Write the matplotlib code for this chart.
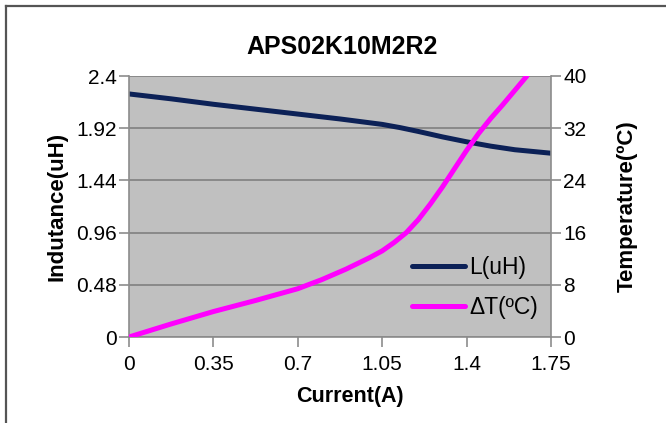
import matplotlib

matplotlib.use("Agg")
from matplotlib import pyplot as plt
from matplotlib.lines import Line2D

plt.rcParams["font.family"] = ["Liberation Sans", "DejaVu Sans"]

title = "APS02K10M2R2"
current_ticks = [0, 0.35, 0.7, 1.05, 1.4, 1.75]
ind_ticks = [0, 0.48, 0.96, 1.44, 1.92, 2.4]
ind_tick_labels = ["0", "0.48", "0.96", "1.44", "1.92", "2.4"]
temp_ticks = [0, 8, 16, 24, 32, 40]

l_current = [0, 0.175, 0.35, 0.525, 0.7, 0.875, 1.05, 1.125, 1.2, 1.3, 1.4, 1.5, 1.6, 1.75]
l_uh = [2.235, 2.19, 2.14, 2.095, 2.05, 2.005, 1.955, 1.925, 1.89, 1.84, 1.795, 1.755, 1.722, 1.69]

t_current = [0, 0.175, 0.35, 0.525, 0.7, 0.8, 0.9, 1.0, 1.05, 1.1, 1.15, 1.2,
             1.25, 1.3, 1.35, 1.4, 1.45, 1.5, 1.55, 1.6, 1.65]
t_rise = [0, 2.0, 3.9, 5.6, 7.4, 8.8, 10.4, 12.2, 13.2, 14.5, 16.0, 18.0,
          20.4, 23.0, 25.8, 28.6, 31.2, 33.5, 35.6, 37.8, 40.0]

navy = "#0c2157"
magenta = "#ff00ff"
axis_grey = "#8c8c8c"
lw = 3.6

fig = plt.figure(figsize=(6.66, 4.23), dpi=100)
ax = fig.add_axes([129 / 666, 1 - 337 / 423, 422 / 666, 261 / 423])
ax.set_facecolor("#c0c0c0")
ax2 = ax.twinx()

ax.set_xlim(0, 1.75)
ax.set_ylim(0, 2.4)
ax2.set_ylim(0, 40)
ax.set_xticks(current_ticks)
ax.set_xticklabels([f"{v:g}" for v in current_ticks])
ax.set_yticks(ind_ticks)
ax.set_yticklabels(ind_tick_labels)
ax2.set_yticks(temp_ticks)

ax.grid(axis="y", color="#7a7a7a", linewidth=1.1)
ax.set_axisbelow(True)

for a in (ax, ax2):
    for spine in a.spines.values():
        spine.set_color(axis_grey)
        spine.set_linewidth(1.2)
    a.tick_params(colors=axis_grey, labelcolor="black", labelsize=15,
                  length=7, width=1.2, direction="out", pad=2)
ax.tick_params(axis="x", pad=6)
ax.spines["top"].set_visible(False)
ax2.spines["top"].set_visible(False)
ax.spines["right"].set_visible(False)
ax2.spines["left"].set_visible(False)
ax2.spines["bottom"].set_visible(False)

ax.plot(l_current, l_uh, color=navy, linewidth=lw, solid_capstyle="round")
ax2.plot(t_current, t_rise, color=magenta, linewidth=lw, solid_capstyle="round")

ax.set_xlabel("Current(A)", fontsize=15.5, fontweight="bold", va="center")
ax.xaxis.set_label_coords(0.524, -0.228)
ax.set_ylabel("Indutance(uH)", fontsize=16, fontweight="bold", va="center")
ax.yaxis.set_label_coords(-0.171, 0.5)
ax2.set_ylabel("Temperature(ºC)", fontsize=16, fontweight="bold", va="center")
ax2.yaxis.set_label_coords(1.18, 0.5)
fig.text(342 / 666, 1 - 47 / 423, title, fontsize=18, fontweight="bold",
         ha="center", va="center")

handles = [
    Line2D([], [], color=navy, linewidth=lw, solid_capstyle="round"),
    Line2D([], [], color=magenta, linewidth=lw, solid_capstyle="round"),
]
ax2.legend(handles, ["L(uH)", "ΔT(ºC)"], loc="upper left",
           bbox_to_anchor=((412 - 129) / 422, (337 - 256) / 261),
           frameon=False, fontsize=16.5, handlelength=2.3, handletextpad=0.2,
           labelspacing=0.74, borderpad=0, borderaxespad=0)

# outer frame: only top and left edges are visible
fig.add_artist(Line2D([5.5 / 666, 1], [1 - 6.5 / 423, 1 - 6.5 / 423], color="#555555", linewidth=1.6))
fig.add_artist(Line2D([5.5 / 666, 5.5 / 666], [0, 1 - 6.5 / 423], color="#555555", linewidth=1.6))

fig.savefig("out.png", dpi=100)
plt.close(fig)
